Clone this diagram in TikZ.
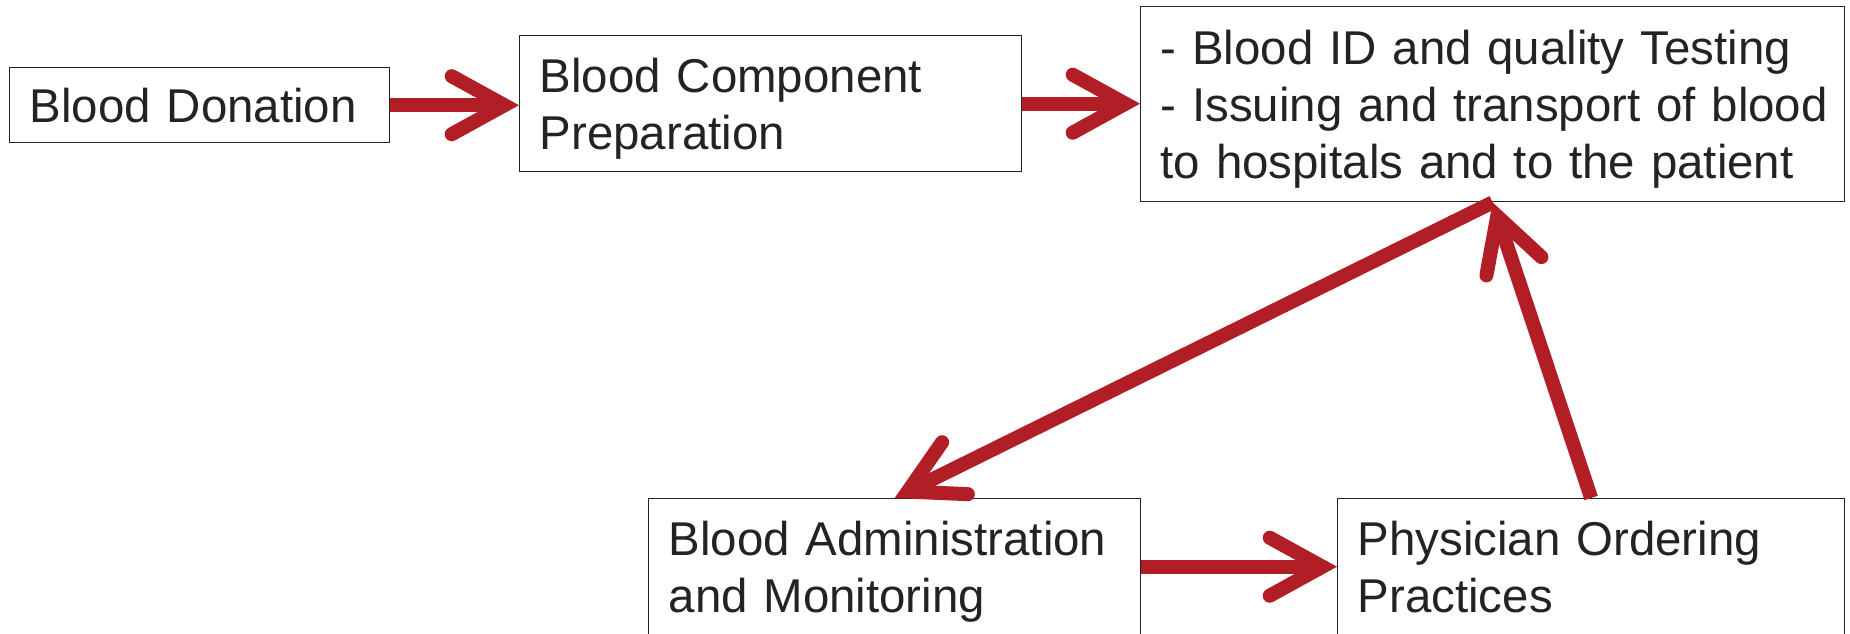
\documentclass[tikz,border=0pt]{standalone}
\usepackage{fontspec}
\setmainfont{Liberation Sans}
\usepackage{xcolor}
\usetikzlibrary{arrows.meta}
\definecolor{rougesang}{RGB}{177, 30, 37}
\definecolor{grisfonce}{RGB}{35, 35, 35}

\begin{document}
\begin{tikzpicture}[x=0.02cm, y=-0.02cm,
    font=\fontsize{27}{32.5}\selectfont,
    boite/.style={draw=grisfonce, line width=0.8pt, text=grisfonce, anchor=north west,
      align=left, inner xsep=0.4cm, inner ysep=0pt},
    fleche/.style={draw=rougesang, line width=8pt,
      -{Straight Barb[length=30pt, width=33pt, line cap=round, line join=miter]}}]
    \useasboundingbox (0,0) rectangle (1850,633);
    \clip (0,0) rectangle (1850,633);
    % boites du haut
    \node[boite, text width=6.8cm, minimum height=1.5cm] (don) at (9,67) {Blood Donation};
    \node[boite, text width=9.24cm, minimum height=2.72cm] (prep) at (519,35) {Blood Component\\\smash{Preparation}};
    \node[boite, text width=13.28cm, minimum height=3.9cm] (test) at (1140,6)
        {\mbox{- Blood ID and quality Testing}\\\mbox{- Issuing and transport of blood}\\\smash{to hospitals and to the patient}};
    % boites du bas (coupees en bas)
    \node[boite, text width=9.04cm, minimum height=2.72cm] (admin) at (648,498) {Blood Administration\\\smash{and Monitoring}};
    \node[boite, text width=9.34cm, minimum height=2.72cm] (prescr) at (1337,498) {Physician Ordering\\Practices};
    % fleches
    \draw[fleche] (don.east) -- (don.east -| prep.west);
    \draw[fleche] (prep.east) -- (prep.east -| test.west);
    \draw[fleche] (test.south) -- (admin.north);
    \draw[fleche] (admin.east) -- (prescr.west);
    \draw[fleche] (prescr.north) -- (test.south);
\end{tikzpicture}
\end{document}
